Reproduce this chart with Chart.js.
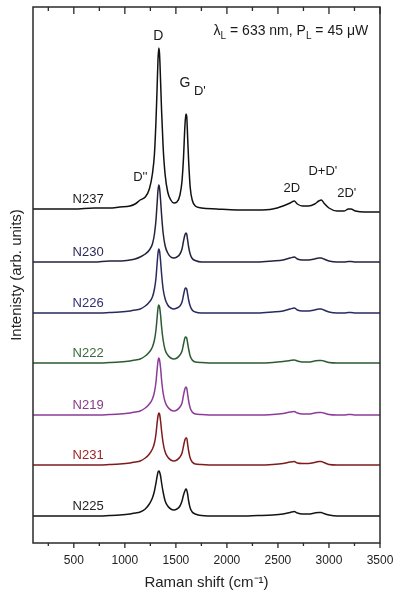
<!DOCTYPE html>
<html>
<head>
<meta charset="utf-8">
<script src="https://cdn.jsdelivr.net/npm/chart.js@4"></script>
<style>
  html, body { margin: 0; padding: 0; background: #fff; }
</style>
</head>
<body>
<canvas id="raman" width="397" height="594"></canvas>
<script>
/* ---------- Data ---------- */

// Raman shift (cm^-1) sample points shared by every spectrum
const shift = [100, 300, 500, 700, 850, 950, 1050, 1100, 1150, 1200,
  1240, 1270, 1290, 1305, 1315, 1325, 1333, 1340, 1350, 1360,
  1375, 1395, 1420, 1450, 1480, 1510, 1540, 1560, 1575, 1588,
  1598, 1606, 1615, 1625, 1640, 1660, 1690, 1750, 1900, 2100,
  2300, 2450, 2550, 2620, 2660, 2690, 2740, 2800, 2860, 2900,
  2925, 2950, 3000, 3080, 3150, 3190, 3215, 3260, 3350, 3500];

// intensity above each spectrum's own baseline (arb. units)
const n237 = [0, 0, 0, 1, 1, 2, 3, 5, 9, 12,
  20, 35, 55, 88, 118, 150, 161, 155, 128, 98,
  62, 34, 17, 9, 6, 7, 14, 28, 52, 82,
  95, 93, 72, 48, 22, 9, 3, 1, 0, -1,
  -1, 0, 3, 6, 8, 5, 3, 3, 5, 8,
  9, 6, 1, -2, -2, 0, 0, -2, -3, -3];
const n230 = [0, 0, 0, 0, 1, 1, 2, 3, 5, 8,
  12, 18, 28, 42, 57, 72, 77, 74, 62, 47,
  29, 16, 9, 5, 4, 5, 8, 13, 21, 27,
  29, 28, 22, 15, 8, 3.5, 1.5, 0, 0, 0,
  0, 1, 2, 4, 5, 3, 2, 2, 3, 4,
  4, 3, 1, 0, 0, 0.5, 0.5, 0, 0, 0];
const n226 = [0, 0, 0, 0, 0.5, 1, 2, 3, 4, 7,
  11, 16, 24, 35, 48, 60, 64, 62, 52, 39,
  24, 14, 8, 5, 4, 5, 7, 11, 18, 24,
  25, 24, 19, 13, 7, 3, 1, 0, 0, 0,
  0, 1, 2, 4, 5, 3, 2, 2, 3, 4,
  4, 3, 1, 0, 0, 0.5, 0.5, 0, 0, 0];
const n222 = [0, 0, 0, 0, 0.5, 1, 2, 3, 4, 7,
  11, 16, 23, 33, 44, 55, 58, 56, 48, 36,
  23, 13, 8, 5, 4, 5, 8, 12, 19, 25,
  26, 25, 20, 14, 7, 3, 1, 0.5, 0, 0,
  0, 0.5, 1.5, 2.5, 3, 2, 1, 1, 2, 2.5,
  2.5, 2, 0.5, 0, 0, 0, 0, 0, 0, 0];
const n219 = [0, 0, 0, 0, 0.5, 1, 2, 3, 4, 7,
  11, 16, 23, 33, 44, 54, 57, 55, 47, 35,
  22, 13, 8, 5, 4, 5, 8, 12, 20, 26,
  28, 27, 21, 14, 7, 3, 1, 0.5, 0, 0,
  0, 0.5, 1.5, 3, 3.5, 2, 1, 1, 2, 2.5,
  2.5, 2, 0.5, 0, 0, 0.5, 0.5, 0, 0, 0];
const n231 = [0, 0, 0, 0, 0.5, 1, 2, 3, 4, 7,
  11, 16, 22, 31, 41, 49, 52, 51, 44, 34,
  22, 13, 8, 5, 4, 5, 8, 12, 19, 25,
  27, 27, 21, 14, 7, 3, 1, 0.5, 0, 0,
  0, 0.5, 1.5, 3, 3.5, 2, 1.5, 1.5, 2.5, 3.5,
  3.5, 2.5, 0.5, 0, 0, 0, 0, 0, 0, 0];
const n225 = [0, 0, 0, 0, 0.5, 1, 2, 3, 4, 7,
  12, 18, 25, 33, 39, 44, 45, 44, 40, 33,
  24, 15, 10, 7, 6, 7, 10, 15, 21, 25,
  27, 26, 22, 15, 8, 4, 2, 0.5, 0, 0,
  0.5, 1, 2, 3.5, 4.5, 3, 2, 2, 3, 3.5,
  3.5, 2.5, 1, 0, 0, 0, 0, 0, 0, 0];

const sampleNames = ["N237", "N230", "N226", "N222", "N219", "N231", "N225"];
const spectra = [n237, n230, n226, n222, n219, n231, n225];
// vertical stacking offset of each baseline
const offsets = [334, 281, 230, 180, 128, 78, 27];

const majorTicks = [500, 1000, 1500, 2000, 2500, 3000, 3500];
const minorTicks = [250, 750, 1250, 1750, 2250, 2750, 3250];

/* ---------- Styles ---------- */

const lineColors = ["#111111", "#23233f", "#2a2a5e", "#2c5a32", "#8c3c98", "#7e1c1c", "#141414"];
const labelColors = ["#1a1a1a", "#2b2b58", "#2f2f72", "#3a6b3a", "#8a3a88", "#a02424", "#222222"];
const FONT = "'Liberation Sans', Arial, sans-serif";

/* ---------- Annotations plugin ---------- */

const frameAndText = {
  id: "frameAndText",
  afterDatasetsDraw(chart) {
    const { ctx, chartArea: a, scales: { x, y } } = chart;
    ctx.save();

    // frame
    ctx.strokeStyle = "#2a2a2a";
    ctx.lineWidth = 1.5;
    ctx.strokeRect(a.left, a.top, a.right - a.left, a.bottom - a.top);

    // ticks: out at the bottom, in at the top
    ctx.lineWidth = 1.3;
    const tick = (v, down, up) => {
      const px = x.getPixelForValue(v);
      ctx.beginPath();
      ctx.moveTo(px, a.bottom);
      ctx.lineTo(px, a.bottom + down);
      ctx.moveTo(px, a.top);
      ctx.lineTo(px, a.top + up);
      ctx.stroke();
    };
    majorTicks.forEach(v => tick(v, 5, 7));
    minorTicks.forEach(v => tick(v, 3, 4));

    // sample names
    ctx.font = "13px " + FONT;
    ctx.textAlign = "center";
    ctx.textBaseline = "middle";
    sampleNames.forEach((name, i) => {
      ctx.fillStyle = labelColors[i];
      ctx.fillText(name, x.getPixelForValue(640), y.getPixelForValue(offsets[i] + 10));
    });

    // band labels
    ctx.fillStyle = "#1a1a1a";
    const put = (txt, xv, yv, size) => {
      ctx.font = size + "px " + FONT;
      ctx.fillText(txt, x.getPixelForValue(xv), y.getPixelForValue(yv));
    };
    put("D", 1328, 507, 14);
    put("G", 1590, 460, 14);
    put("D'", 1735, 452, 13);
    put("D''", 1152, 366, 13);
    put("2D", 2637, 355, 13);
    put("D+D'", 2940, 372, 13);
    put("2D'", 3174, 350, 13);

    // laser line
    ctx.textAlign = "right";
    const yl = y.getPixelForValue(512);
    const xr = x.getPixelForValue(3384);
    ctx.font = "14px " + FONT;
    const tail = " = 45 \u03bcW";
    let cx = xr - ctx.measureText(tail).width;
    ctx.fillText(tail, xr, yl);
    ctx.font = "10px " + FONT;
    ctx.fillText("L", cx, yl + 5);
    cx -= ctx.measureText("L").width;
    ctx.font = "14px " + FONT;
    const mid = " = 633 nm, P";
    ctx.fillText(mid, cx, yl);
    cx -= ctx.measureText(mid).width;
    ctx.font = "10px " + FONT;
    ctx.fillText("L", cx, yl + 5);
    cx -= ctx.measureText("L").width;
    ctx.font = "14px " + FONT;
    ctx.fillText("\u03bb", cx, yl);

    ctx.restore();
  }
};

/* ---------- Chart ---------- */

const datasets = spectra.map((vals, i) => ({
  label: sampleNames[i],
  data: shift.map((s, k) => ({ x: s, y: offsets[i] + vals[k] })),
  borderColor: lineColors[i],
  borderWidth: 1.5,
  pointRadius: 0,
  cubicInterpolationMode: "monotone",
  fill: false
}));

new Chart(document.getElementById("raman"), {
  type: "line",
  data: { datasets },
  options: {
    responsive: false,
    animation: false,
    layout: { padding: { left: 0, top: 7, right: 17, bottom: 0 } },
    plugins: { legend: { display: false }, tooltip: { enabled: false } },
    scales: {
      x: {
        type: "linear",
        min: 100,
        max: 3500,
        afterFit: s => { s.height = 51; s.paddingLeft = 0; s.paddingRight = 0; },
        afterBuildTicks: s => { s.ticks = majorTicks.map(v => ({ value: v })); },
        grid: { display: false, drawTicks: false },
        border: { display: false },
        ticks: {
          padding: 10,
          color: "#222",
          font: { family: FONT, size: 12 },
          callback: v => String(v)
        },
        title: {
          display: true,
          text: "Raman shift (cm\u207b\u00b9)",
          color: "#222",
          font: { family: FONT, size: 15 },
          padding: { top: 0, bottom: 2 }
        }
      },
      y: {
        min: 0,
        max: 536,
        afterFit: s => { s.width = 33; },
        grid: { display: false, drawTicks: false },
        border: { display: false },
        ticks: { display: false },
        title: {
          display: true,
          text: "Intenisty (arb. units)",
          color: "#222",
          font: { family: FONT, size: 15 },
          padding: { top: 8, bottom: 0 }
        }
      }
    }
  },
  plugins: [frameAndText]
});
</script>
</body>
</html>
